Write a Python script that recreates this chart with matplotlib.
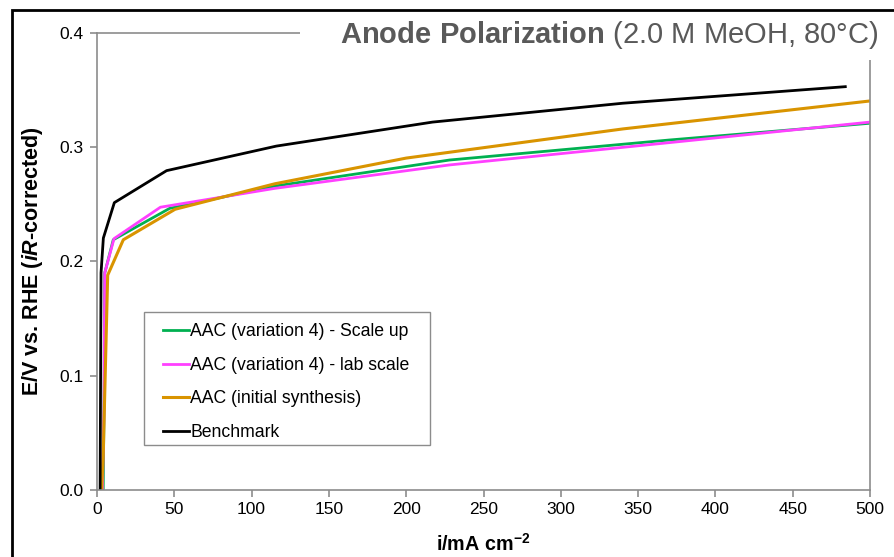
import matplotlib
matplotlib.use("Agg")
import matplotlib.pyplot as plt
from matplotlib.patches import Rectangle

plt.rcParams['font.family'] = ['Liberation Sans', 'DejaVu Sans']
plt.rcParams['mathtext.fontset'] = 'custom'
plt.rcParams['mathtext.rm'] = 'Liberation Sans:bold'
plt.rcParams['mathtext.it'] = 'Liberation Sans:italic:bold'
plt.rcParams['mathtext.bf'] = 'Liberation Sans:bold'

# current density (mA/cm2) and potential (V vs RHE)
scale_x = [4, 4.5, 5, 10.5, 47, 115, 228, 370, 500]
scale_y = [0.0, 0.07, 0.19, 0.219, 0.2465, 0.266, 0.2888, 0.3063, 0.321]

lab_x = [3.5, 4.5, 5, 11, 41, 115, 228, 370, 500]
lab_y = [0.0, 0.07, 0.19, 0.220, 0.2475, 0.264, 0.2845, 0.304, 0.322]

init_x = [3, 4, 6.9, 17, 50.5, 115, 200, 340, 500]
init_y = [0.0, 0.03, 0.188, 0.219, 0.2457, 0.268, 0.2905, 0.316, 0.3405]

bench_x = [2, 2.6, 4.1, 11.2, 45, 116, 217, 340, 484]
bench_y = [0.0, 0.19, 0.2205, 0.2515, 0.2795, 0.301, 0.322, 0.3385, 0.353]

labels = ["AAC (variation 4) - Scale up", "AAC (variation 4) - lab scale",
          "AAC (initial synthesis)", "Benchmark"]

fig = plt.figure(figsize=(8.95, 5.57), dpi=100)
ax = fig.add_axes([0.1084, 0.1203, 0.8637, 0.8205])

ax.plot(scale_x, scale_y, color="#00b050", lw=2, label=labels[0])
ax.plot(lab_x, lab_y, color="#ff40ff", lw=2, label=labels[1])
ax.plot(init_x, init_y, color="#d99400", lw=2.2, label=labels[2])
ax.plot(bench_x, bench_y, color="black", lw=2, label=labels[3])

ax.set_xlim(0, 500)
ax.set_ylim(0, 0.4)
ax.set_xticks(range(0, 501, 50))
ax.set_yticks([0.0, 0.1, 0.2, 0.3, 0.4])
ax.set_yticklabels(["0.0", "0.1", "0.2", "0.3", "0.4"])
for s in ax.spines.values():
    s.set_color("#8c8c8c")
    s.set_linewidth(1.2)
ax.tick_params(colors="#8c8c8c", labelcolor="black", labelsize=12.5,
               length=5, width=1.2, direction="out", pad=4)
ax.tick_params(axis="y", pad=5)

ax.set_xlabel(r"i/mA cm$^{-2}$", fontsize=14.2, fontweight="bold")
ax.xaxis.set_label_coords(0.5, -0.094)
ax.set_ylabel(r"E/V vs. RHE ($\mathit{iR}$-corrected)", fontsize=15.5,
              fontweight="bold")
ax.yaxis.set_label_coords(-0.0673, 0.5)

# legend without its own frame; the box is drawn separately so the
# horizontal and vertical padding can differ
leg = ax.legend(loc="upper left", bbox_to_anchor=(0.0854, 0.3655),
                borderaxespad=0, borderpad=0, fontsize=12.7,
                handlelength=1.5, handletextpad=0.05, labelspacing=0.95,
                frameon=False)
ax.add_patch(Rectangle((0.0608, 0.0985), 0.37, 0.291, transform=ax.transAxes,
                       facecolor="white", edgecolor="#8c8c8c", lw=1,
                       zorder=4))
leg.set_zorder(5)

# outer frame (only left and top visible in the crop)
fig.patches.append(Rectangle((12 / 895, -0.1), 1.2, 1.1 - 10 / 557,
                             transform=fig.transFigure, fill=False,
                             edgecolor="black", lw=2, zorder=1))
# white box behind the title hiding part of the axes frame
fig.patches.append(Rectangle((300 / 895, 1 - 60 / 557), 593 / 895, 48 / 557,
                             transform=fig.transFigure, facecolor="white",
                             edgecolor="none", zorder=2))

fig.text(0.981, 1 - 43 / 557,
         r"$\mathbf{Anode\ Polarization}$ (2.0 M MeOH, 80°C)",
         ha="right", va="baseline", fontsize=21, color="#595959", zorder=3)

fig.savefig("out.png", dpi=100)
